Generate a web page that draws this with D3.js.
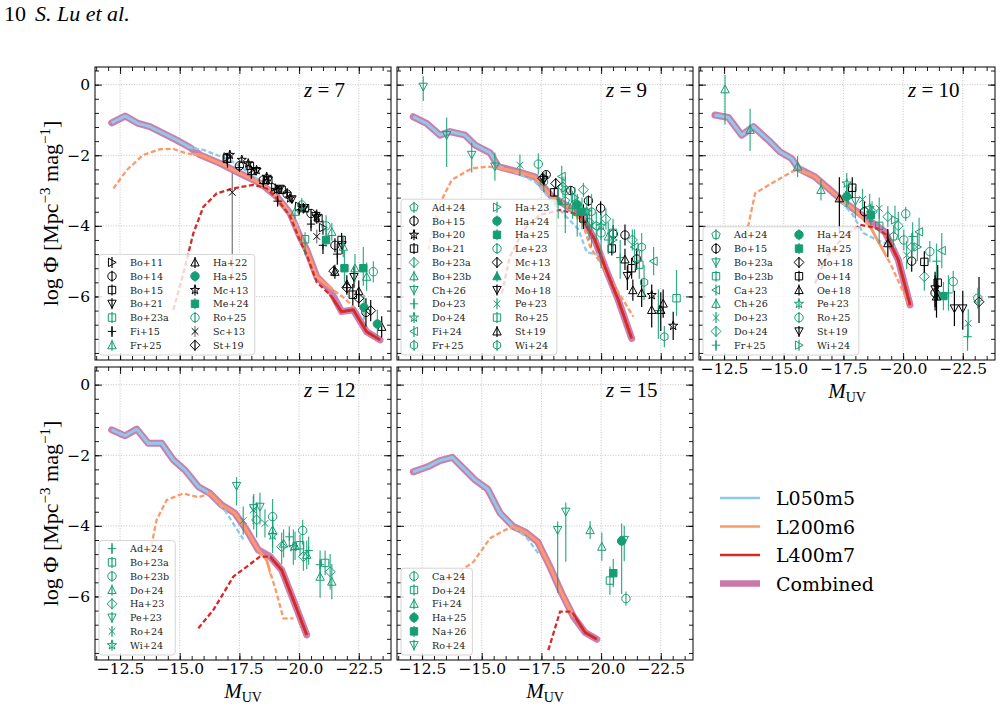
<!DOCTYPE html>
<html>
<head>
<meta charset="utf-8">
<script src="https://cdn.jsdelivr.net/npm/d3@7"></script>
<style>
body { margin: 0; background: #fff; }
svg text { font-family: "DejaVu Serif", serif; }
svg text.cm { font-family: "Liberation Serif", "DejaVu Serif", serif; }
</style>
</head>
<body>
<svg id="chart" width="1004" height="709"></svg>
<script>
// ---- model curves: [M_UV, log Phi] ----
var comb7 = [[-12.15,-1.08],[-12.71,-0.89],[-13.26,-1.10],[-13.75,-1.19],[-14.31,-1.38],[-14.87,-1.57],[-15.43,-1.78],[-15.85,-1.99],[-16.69,-2.23],[-17.52,-2.51],[-18.36,-2.79],[-19.06,-3.17],[-19.62,-3.64],[-20.04,-4.31],[-20.32,-4.68],[-20.74,-5.44],[-21.30,-5.82],[-21.78,-6.43],[-22.27,-6.38],[-22.83,-7.0],[-23.39,-7.23]];
var blue7 = [[-12.15,-1.08],[-12.71,-0.89],[-13.26,-1.10],[-13.75,-1.19],[-14.31,-1.38],[-14.87,-1.57],[-15.43,-1.78],[-16.0,-1.85],[-16.5,-1.98],[-17.1,-2.13],[-17.7,-2.4],[-18.3,-2.7],[-18.9,-3.05],[-19.5,-3.5],[-20.0,-4.1]];
var orange7 = [[-12.22,-2.94],[-12.78,-2.42],[-13.47,-1.99],[-14.17,-1.83],[-14.73,-1.82],[-15.29,-1.95],[-15.85,-1.99],[-16.69,-2.23],[-17.52,-2.51],[-18.36,-2.79],[-19.06,-3.17],[-19.62,-3.64],[-20.04,-4.31],[-20.32,-4.68],[-20.74,-5.44],[-21.3,-5.75],[-21.9,-6.05],[-22.3,-6.3]];
var red7 = [[-14.73,-6.38],[-15.15,-5.35],[-15.57,-4.21],[-15.99,-3.46],[-16.55,-3.08],[-17.24,-2.94],[-18.08,-2.84],[-18.64,-2.94],[-19.06,-3.22],[-19.62,-3.72],[-20.04,-4.42],[-20.32,-4.82],[-20.74,-5.6],[-21.3,-5.95],[-21.78,-6.43],[-22.27,-6.38],[-22.83,-7.0],[-23.39,-7.23]];
var cuts7 = [-15.55, -21.4];

var comb9 = [[-12.13,-0.91],[-12.69,-1.10],[-13.25,-1.43],[-13.67,-1.33],[-14.3,-1.43],[-14.72,-1.71],[-15.35,-1.93],[-15.69,-2.32],[-16.53,-2.47],[-17.23,-2.61],[-17.93,-3.17],[-18.63,-3.46],[-19.19,-3.74],[-19.74,-4.4],[-20.16,-5.16],[-20.72,-6.1],[-21.28,-7.19]];
var blue9 = [[-12.13,-0.91],[-12.69,-1.10],[-13.25,-1.43],[-13.67,-1.33],[-14.3,-1.43],[-14.72,-1.71],[-15.35,-1.93],[-15.69,-2.3],[-16.53,-2.52],[-17.23,-2.75],[-18.14,-3.45],[-19.05,-4.1],[-19.4,-4.75],[-20.1,-4.85]];
var orange9 = [[-12.76,-4.68],[-13.18,-3.46],[-13.74,-2.7],[-14.58,-2.37],[-15.27,-2.32],[-15.69,-2.36],[-16.53,-2.47],[-17.23,-2.61],[-17.93,-3.17],[-18.63,-3.46],[-19.19,-3.85],[-19.54,-4.59],[-20.24,-5.34],[-21.35,-6.57]];
var red9 = [[-15.84,-5.91],[-16.18,-4.87],[-16.74,-4.12],[-17.44,-3.69],[-18.28,-3.55],[-19.12,-3.69],[-19.74,-4.4],[-20.16,-5.16],[-20.72,-6.1],[-21.28,-7.19]];
var cuts9 = [-15.6, -19.1];

var comb10 = [[-12.12,-0.86],[-12.68,-0.93],[-13.24,-1.43],[-13.73,-1.19],[-14.35,-1.57],[-14.84,-1.9],[-15.33,-2.09],[-15.61,-2.37],[-16.31,-2.61],[-16.87,-2.94],[-17.43,-3.27],[-17.98,-3.55],[-18.54,-3.83],[-19.24,-4.17],[-19.8,-4.97],[-20.29,-6.24]];
var blue10 = [[-12.12,-0.86],[-12.68,-0.93],[-13.24,-1.43],[-13.73,-1.19],[-14.35,-1.57],[-14.84,-1.9],[-15.33,-2.09],[-15.61,-2.37],[-16.31,-2.61],[-16.87,-2.94],[-17.4,-3.3],[-17.9,-3.7],[-18.33,-4.2],[-18.9,-4.4],[-19.7,-4.6]];
var orange10 = [[-13.24,-4.87],[-13.8,-3.08],[-14.5,-2.79],[-15.33,-2.47],[-15.61,-2.4],[-16.31,-2.61],[-16.87,-2.94],[-17.43,-3.27],[-17.98,-3.55],[-18.62,-4.02],[-19.46,-5.06],[-20.29,-6.29]];
var red10 = [[-16.31,-5.63],[-16.8,-4.87],[-17.5,-4.31],[-18.2,-3.97],[-18.9,-4.07],[-19.3,-4.26],[-19.8,-4.97],[-20.29,-6.24]];
var cuts10 = [-15.65, -19.3];

var comb12 = [[-12.15,-1.28],[-12.71,-1.45],[-13.2,-1.26],[-13.68,-1.66],[-14.24,-1.66],[-14.73,-2.13],[-15.22,-2.42],[-15.78,-2.89],[-16.27,-3.08],[-16.76,-3.41],[-17.31,-3.64],[-17.8,-4.12],[-18.29,-4.68],[-18.78,-4.87],[-19.27,-5.25],[-19.76,-6.1],[-20.32,-7.09]];
var blue12 = [[-12.15,-1.28],[-12.71,-1.45],[-13.2,-1.26],[-13.68,-1.66],[-14.24,-1.66],[-14.73,-2.13],[-15.22,-2.42],[-15.78,-2.89],[-16.27,-3.08],[-16.76,-3.45],[-16.97,-3.64],[-17.3,-4.0],[-17.73,-4.45]];
var orange12 = [[-13.75,-4.78],[-14.03,-3.83],[-14.45,-3.27],[-15.15,-3.08],[-15.78,-3.19],[-16.27,-3.08],[-16.76,-3.41],[-17.31,-3.64],[-17.8,-4.12],[-18.29,-4.68],[-18.64,-4.97],[-19.06,-5.91],[-19.34,-6.62],[-19.76,-6.62]];
var red12 = [[-15.78,-6.9],[-16.41,-6.38],[-16.83,-5.91],[-17.24,-5.44],[-17.8,-5.16],[-18.36,-4.87],[-18.78,-4.87],[-19.27,-5.25],[-19.76,-6.1],[-20.32,-7.09]];
var cuts12 = [-16.2, -18.8];

var comb15 = [[-12.13,-2.47],[-12.76,-2.32],[-13.25,-2.15],[-13.77,-2.06],[-14.3,-2.42],[-14.72,-2.7],[-15.25,-2.96],[-15.77,-3.64],[-16.32,-4.02],[-16.81,-4.17],[-17.34,-4.45],[-17.86,-5.16],[-18.35,-5.91],[-18.84,-6.57],[-19.33,-7.02],[-19.82,-7.21]];
var blue15 = [[-12.13,-2.47],[-12.76,-2.32],[-13.25,-2.15],[-13.77,-2.06],[-14.3,-2.42],[-14.72,-2.7],[-15.25,-2.96],[-15.77,-3.64],[-16.32,-4.02],[-16.9,-4.35],[-17.37,-4.78]];
var orange15 = [[-13.25,-5.63],[-14.16,-5.25],[-14.65,-5.02],[-15.35,-4.35],[-15.97,-4.12],[-16.32,-4.02],[-16.81,-4.17],[-17.34,-4.45],[-17.86,-5.16],[-18.35,-5.91],[-18.84,-6.57]];
var red15 = [[-17.79,-7.52],[-18.28,-6.43],[-18.77,-6.43],[-19.33,-7.02],[-19.82,-7.21]];
var cuts15 = [-16.3, -18.9];

// ---- observations: [M_UV, log Phi, err low, err high] ----
var obs7 = [
  ["Bo+11", [[-17.0,-2.05,0.1,0.1],[-18.0,-2.4,0.1,0.1],[-19.0,-2.9,0.1,0.1],[-20.0,-3.45,0.12,0.12],[-21.0,-4.05,0.2,0.2]]],
  ["Bo+14", [[-17.5,-2.3,0.08,0.08],[-18.5,-2.7,0.1,0.1],[-19.5,-3.1,0.1,0.1],[-20.5,-3.65,0.12,0.12],[-21.5,-4.55,0.2,0.2],[-22.8,-6.45,0.4,0.4]]],
  ["Bo+15", [[-16.97,-2.09,0.15,0.15],[-17.94,-2.3,0.1,0.1],[-18.71,-2.7,0.1,0.1],[-19.27,-2.98,0.1,0.1],[-20.25,-3.5,0.1,0.1],[-20.81,-3.78,0.12,0.12],[-21.78,-4.4,0.2,0.2],[-22.25,-5.95,0.3,0.3]]],
  ["Bo+21", [[-18.2,-2.45,0.1,0.1],[-18.7,-2.72,0.1,0.1],[-19.2,-2.95,0.1,0.1],[-19.7,-3.25,0.1,0.1],[-20.2,-3.5,0.12,0.12],[-20.7,-3.72,0.15,0.15],[-21.8,-4.55,0.25,0.25],[-22.3,-5.45,0.3,0.3]]],
  ["Bo+23a", [[-20.25,-4.38,0.45,0.2]]],
  ["Fi+15", [[-17.0,-2.2,0.15,0.15],[-17.5,-2.35,0.1,0.1],[-18.0,-2.55,0.1,0.1],[-18.5,-2.8,0.1,0.1],[-19.1,-3.3,0.15,0.15],[-19.5,-3.05,0.1,0.1],[-20.0,-3.55,0.15,0.15],[-20.5,-3.95,0.2,0.2],[-21.0,-4.55,0.25,0.25],[-21.6,-4.8,0.3,0.3]]],
  ["Fr+25", [[-19.83,-3.6,0.2,0.2],[-21.37,-4.17,0.25,0.25],[-21.85,-4.59,0.3,0.3],[-22.34,-5.2,0.4,0.4],[-22.83,-5.44,0.4,0.4]]],
  ["Ha+22", [[-21.5,-5.3,0.2,0.2],[-22.0,-5.65,0.25,0.25],[-22.5,-5.85,0.3,0.3],[-23.46,-6.86,0.3,0.3]]],
  ["Ha+25", [[-22.72,-6.31,0.35,0.35],[-23.28,-6.78,0.4,0.4]]],
  ["Mc+13", [[-17.1,-1.99,0.1,0.1],[-17.6,-2.13,0.08,0.08],[-17.87,-2.23,0.08,0.08],[-18.22,-2.42,0.08,0.08],[-18.64,-2.61,0.1,0.1],[-19.06,-2.98,0.1,0.1],[-19.62,-3.22,0.12,0.12],[-20.18,-3.5,0.15,0.15],[-20.74,-3.74,0.2,0.2]]],
  ["Me+24", [[-21.13,-4.4,0.2,0.4],[-21.9,-5.2,0.4,0.5],[-22.69,-5.2,0.5,0.6]]],
  ["Ro+25", [[-20.11,-3.41,0.2,0.2],[-21.13,-4.0,0.3,0.3],[-23.11,-5.3,0.3,0.3]]],
  ["Sc+13", [[-17.2,-3.05,2.4,0.55],[-20.74,-4.3,0.2,0.2]]],
  ["St+19", [[-21.45,-5.28,0.15,0.15],[-22.0,-5.75,0.2,0.2],[-22.5,-6.05,0.25,0.25],[-23.0,-6.4,0.3,0.3]]]
];
var obs9 = [
  ["Ad+24", [[-18.5,-3.3,0.5,0.4],[-19.5,-3.9,0.5,0.4]]],
  ["Bo+15", [[-17.7,-2.55,0.1,0.1],[-18.73,-3.0,0.12,0.12],[-19.47,-3.29,0.15,0.15],[-19.98,-3.5,0.2,0.2],[-20.51,-4.23,0.25,0.25],[-21.0,-4.26,0.3,0.3],[-21.49,-4.94,0.3,0.3]]],
  ["Bo+20", [[-22.12,-5.96,0.3,0.3],[-23.02,-6.83,0.4,0.4]]],
  ["Bo+21", [[-18.04,-3.05,0.12,0.12],[-19.26,-3.79,0.3,0.4],[-20.45,-4.64,0.2,0.2],[-21.28,-5.2,0.3,0.3]]],
  ["Bo+23a", [[-18.4,-2.9,0.3,0.3],[-19.26,-2.98,0.2,0.2],[-20.2,-3.8,0.3,0.3],[-21.31,-4.4,0.3,0.3]]],
  ["Bo+23b", [[-18.8,-3.4,0.4,0.4],[-20.3,-4.3,0.5,0.4]]],
  ["Ch+26", [[-12.55,-0.06,0.4,0.3],[-13.53,-1.43,0.9,0.5],[-14.58,-1.99,0.5,0.35],[-15.55,-2.32,0.4,0.4]]],
  ["Do+23", [[-19.0,-3.7,0.6,0.5],[-20.8,-4.9,0.6,0.5],[-22.4,-6.4,0.8,0.6]]],
  ["Do+24", [[-19.4,-3.6,0.4,0.4],[-20.0,-4.0,0.4,0.4]]],
  ["Fi+24", [[-18.35,-2.6,0.3,0.3],[-21.4,-4.6,0.5,0.5],[-22.2,-5.0,0.4,0.4]]],
  ["Fr+25", [[-17.6,-2.75,0.3,0.3],[-19.6,-3.6,0.5,0.5],[-21.7,-4.6,0.4,0.4]]],
  ["Ha+23", [[-18.9,-3.2,0.4,0.3],[-20.5,-4.4,0.4,0.4]]],
  ["Ha+24", [[-19.0,-3.4,0.3,0.3]]],
  ["Ha+25", [[-19.2,-3.6,0.5,0.4]]],
  ["Le+23", [[-17.37,-2.25,0.3,0.3],[-18.5,-3.0,1.2,0.4],[-20.0,-4.2,1.0,0.5]]],
  ["Mc+13", [[-17.55,-2.65,0.15,0.15],[-18.1,-2.8,0.15,0.15]]],
  ["Me+24", [[-18.2,-3.3,0.5,0.4]]],
  ["Mo+18", [[-17.6,-2.7,0.15,0.15],[-21.1,-5.42,0.4,0.3]]],
  ["Pe+23", [[-16.6,-2.28,0.3,0.3],[-19.6,-4.0,0.6,0.5]]],
  ["Ro+25", [[-20.5,-4.2,0.4,0.4],[-21.6,-5.1,0.4,0.4],[-23.16,-6.05,0.5,0.8]]],
  ["St+19", [[-21.0,-4.95,0.3,0.3],[-21.33,-5.82,0.3,0.3],[-21.7,-5.9,0.4,0.4],[-22.12,-6.38,0.5,0.5],[-22.5,-6.38,0.6,0.5],[-22.6,-6.2,0.4,0.4]]],
  ["Wi+24", [[-19.8,-4.0,0.4,0.4],[-21.8,-5.6,0.5,0.5],[-22.65,-7.14,0.3,0.3]]]
];
var obs10 = [
  ["Ad+24", [[-19.6,-4.3,0.3,0.3]]],
  ["Bo+15", [[-18.38,-3.6,0.3,0.3],[-20.36,-5.0,0.3,0.3],[-21.34,-5.9,0.5,0.5]]],
  ["Bo+23a", [[-18.0,-3.3,0.5,0.4]]],
  ["Bo+23b", [[-19.0,-4.0,0.5,0.5]]],
  ["Ca+23", [[-20.67,-4.17,0.4,0.4],[-21.62,-4.7,0.5,0.5]]],
  ["Ch+26", [[-12.54,-0.13,1.0,0.4],[-13.59,-1.28,0.6,0.6],[-15.58,-2.32,0.3,0.3],[-16.56,-2.98,0.3,0.3]]],
  ["Do+23", [[-17.7,-3.1,0.3,0.3],[-18.3,-3.25,0.3,0.3],[-19.0,-3.5,0.3,0.3],[-20.15,-4.83,0.4,0.4],[-22.73,-6.76,0.4,0.4]]],
  ["Do+24", [[-18.7,-3.6,0.3,0.3],[-19.36,-3.74,0.3,0.3],[-19.8,-4.0,0.4,0.4],[-20.36,-4.6,0.4,0.4],[-20.89,-5.44,0.4,0.4]]],
  ["Fr+25", [[-20.4,-4.3,0.4,0.4],[-21.4,-5.0,0.5,0.5],[-21.9,-5.9,0.5,0.5],[-22.7,-7.14,0.4,0.4]]],
  ["Ha+24", [[-17.64,-3.17,0.3,0.3]]],
  ["Ha+25", [[-18.65,-3.69,0.3,0.3],[-21.69,-5.99,0.4,0.4]]],
  ["Mo+18", [[-23.18,-6.15,0.6,0.7]]],
  ["Oe+14", [[-17.87,-2.92,0.3,0.3],[-20.89,-5.02,0.3,0.3],[-21.45,-5.61,0.5,0.5]]],
  ["Oe+18", [[-17.33,-3.22,1.0,0.6],[-19.36,-4.49,0.4,0.4],[-21.4,-6.0,0.6,0.5]]],
  ["Pe+23", [[-17.64,-2.8,0.3,0.3],[-18.6,-3.5,0.4,0.4]]],
  ["Ro+25", [[-20.11,-3.66,0.2,0.2],[-20.03,-4.4,0.3,0.3],[-21.12,-4.73,0.3,0.3],[-22.1,-5.58,0.3,0.3],[-23.13,-6.05,0.3,0.3]]],
  ["St+19", [[-21.34,-5.8,0.5,0.5],[-22.15,-6.34,0.5,0.5],[-22.5,-6.34,0.6,0.5]]],
  ["Wi+24", [[-19.66,-3.83,0.4,0.4],[-20.6,-4.6,0.4,0.4]]]
];
var obs12 = [
  ["Ad+24", [[-19.59,-4.31,0.3,0.3],[-20.4,-4.7,0.4,0.4],[-20.88,-5.1,0.4,0.4]]],
  ["Bo+23a", [[-20.04,-4.55,0.3,0.3],[-21.09,-5.05,0.35,0.35]]],
  ["Bo+23b", [[-18.89,-3.74,0.5,0.5],[-20.15,-4.13,0.4,0.3]]],
  ["Do+24", [[-18.89,-4.12,0.5,0.4],[-19.35,-4.5,0.4,0.4],[-19.83,-4.57,0.4,0.4],[-20.32,-4.82,0.4,0.4],[-20.88,-5.44,0.6,0.5],[-21.37,-5.58,0.5,0.5]]],
  ["Ha+23", [[-18.22,-3.83,0.5,0.5],[-19.27,-4.59,0.5,0.4],[-20.18,-4.87,0.4,0.4],[-21.3,-5.3,0.5,0.5]]],
  ["Pe+23", [[-17.38,-2.87,0.55,0.25],[-18.1,-3.5,0.6,0.4],[-18.36,-3.46,0.5,0.4]]],
  ["Ro+24", [[-17.66,-3.85,0.4,0.4],[-18.08,-3.55,0.4,0.4],[-18.57,-3.93,0.4,0.4]]],
  ["Wi+24", [[-18.89,-4.27,0.5,0.5],[-19.76,-4.6,0.5,0.5]]]
];
var obs15 = [
  ["Ca+24", [[-21.04,-6.06,0.2,0.2]]],
  ["Do+24", [[-20.37,-5.55,0.4,0.4]]],
  ["Fi+24", [[-19.54,-4.12,0.25,0.25],[-20.03,-4.59,0.4,0.4]]],
  ["Ha+25", [[-20.86,-4.43,1.5,0.5]]],
  ["Na+26", [[-20.51,-5.34,0.4,0.4]]],
  ["Ro+24", [[-18.18,-4.12,1.78,0.24],[-18.52,-3.6,1.42,0.26],[-20.97,-4.4,0.6,0.4]]]
];

// marker style per dataset: shape, colour key, filled
var sty7 = {"Bo+11":["triR","k",0],"Bo+14":["circle","k",0],"Bo+15":["square","k",0],"Bo+21":["triD","k",0],"Bo+23a":["square","g",0],"Fi+15":["plus","k",0],"Fr+25":["triU","g",0],"Ha+22":["triU","k",0],"Ha+25":["circle","g",1],"Mc+13":["star","k",0],"Me+24":["square","g",1],"Ro+25":["circle","g",0],"Sc+13":["x","k",0],"St+19":["diamond","k",0]};
var sty9 = {"Ad+24":["pent","g",0],"Bo+15":["circle","k",0],"Bo+20":["star","k",0],"Bo+21":["square","k",0],"Bo+23a":["diamond","g",0],"Bo+23b":["triU","g",0],"Ch+26":["triD","g",0],"Do+23":["plus","g",0],"Do+24":["star","g",0],"Fi+24":["triL","g",0],"Fr+25":["hex","g",0],"Ha+23":["triR","g",0],"Ha+24":["circle","g",1],"Ha+25":["square","g",1],"Le+23":["circle","g",0],"Mc+13":["diamond","k",0],"Me+24":["triU","g",1],"Mo+18":["triD","k",0],"Pe+23":["x","g",0],"Ro+25":["square","g",0],"St+19":["triU","k",0],"Wi+24":["hex","g",0]};
var sty10 = {"Ad+24":["pent","g",0],"Bo+15":["circle","k",0],"Bo+23a":["triD","g",0],"Bo+23b":["square","g",0],"Ca+23":["triL","g",0],"Ch+26":["triU","g",0],"Do+23":["x","g",0],"Do+24":["diamond","g",0],"Fr+25":["plus","g",0],"Ha+24":["circle","g",1],"Ha+25":["square","g",1],"Mo+18":["diamond","k",0],"Oe+14":["square","k",0],"Oe+18":["triU","k",0],"Pe+23":["star","g",0],"Ro+25":["circle","g",0],"St+19":["triD","k",0],"Wi+24":["triR","g",0]};
var sty12 = {"Ad+24":["plus","g",0],"Bo+23a":["square","g",0],"Bo+23b":["circle","g",0],"Do+24":["triU","g",0],"Ha+23":["diamond","g",0],"Pe+23":["triD","g",0],"Ro+24":["x","g",0],"Wi+24":["star","g",0]};
var sty15 = {"Ca+24":["circle","g",0],"Do+24":["square","g",0],"Fi+24":["triU","g",0],"Ha+25":["circle","g",1],"Na+26":["square","g",1],"Ro+24":["triD","g",0]};

var simNames = ["L050m5", "L200m6", "L400m7", "Combined"];

// ---- layout ----
var pw = 296, ph = 293;
var colors = {blue: "#8ccbec", orange: "#fc9a6b", red: "#d62a28", comb: "#c978a8", g: "#159e74", k: "#000"};

var panels = [
  {z: "7",  left: 95,  top: 67,  comb: comb7,  blue: blue7,  orange: orange7,  red: red7,  cuts: cuts7,  obs: obs7,  sty: sty7,  ncol: 2, xt: false, yt: true},
  {z: "9",  left: 397, top: 67,  comb: comb9,  blue: blue9,  orange: orange9,  red: red9,  cuts: cuts9,  obs: obs9,  sty: sty9,  ncol: 2, xt: false, yt: false},
  {z: "10", left: 699, top: 67,  comb: comb10, blue: blue10, orange: orange10, red: red10, cuts: cuts10, obs: obs10, sty: sty10, ncol: 2, xt: true,  yt: false},
  {z: "12", left: 95,  top: 367, comb: comb12, blue: blue12, orange: orange12, red: red12, cuts: cuts12, obs: obs12, sty: sty12, ncol: 1, xt: true,  yt: true},
  {z: "15", left: 397, top: 367, comb: comb15, blue: blue15, orange: orange15, red: red15, cuts: cuts15, obs: obs15, sty: sty15, ncol: 1, xt: true,  yt: false}
];

var svg = d3.select("#chart");
var defs = svg.append("defs");

var x = d3.scaleLinear().domain([-11.45, -23.85]).range([0, pw]);
var y = d3.scaleLinear().domain([-7.8, 0.5]).range([ph, 0]);
var line = d3.line().x(function(d) { return x(d[0]); }).y(function(d) { return y(d[1]); });

var xMajor = [-12.5, -15, -17.5, -20, -22.5],
    xMinor = d3.range(-11.5, -23.9, -0.5),
    yMajor = [0, -2, -4, -6],
    yMinor = d3.range(0.4, -7.9, -0.4);

function poly(pts) { return "M" + pts.map(function(p) { return p[0].toFixed(2) + "," + p[1].toFixed(2); }).join("L") + "Z"; }
function ngon(n, r, rot) {
  var pts = [];
  for (var i = 0; i < n; i++) { var a = rot + i * 2 * Math.PI / n; pts.push([r * Math.sin(a), -r * Math.cos(a)]); }
  return poly(pts);
}
function symbol(shape, r) {
  switch (shape) {
    case "circle": return "M" + r + ",0A" + r + "," + r + ",0,1,1," + (-r) + ",0A" + r + "," + r + ",0,1,1," + r + ",0Z";
    case "square": var s = r * 0.88; return poly([[-s,-s],[s,-s],[s,s],[-s,s]]);
    case "diamond": var t = r * 1.18; return poly([[0,-t],[t,0],[0,t],[-t,0]]);
    case "triU": return poly([[0,-r],[r,r*0.85],[-r,r*0.85]]);
    case "triD": return poly([[0,r],[r,-r*0.85],[-r,-r*0.85]]);
    case "triL": return poly([[-r,0],[r*0.85,-r],[r*0.85,r]]);
    case "triR": return poly([[r,0],[-r*0.85,-r],[-r*0.85,r]]);
    case "plus": return "M" + (-r) + ",0H" + r + "M0," + (-r) + "V" + r;
    case "x": var u = r * 0.8; return "M" + (-u) + "," + (-u) + "L" + u + "," + u + "M" + (-u) + "," + u + "L" + u + "," + (-u);
    case "pent": return ngon(5, r * 1.05, 0);
    case "hex": return ngon(6, r, 0);
    case "star":
      var pts = [];
      for (var i = 0; i < 10; i++) { var a = i * Math.PI / 5, rr = i % 2 ? r * 0.45 : r * 1.15; pts.push([rr * Math.sin(a), -rr * Math.cos(a)]); }
      return poly(pts);
  }
}

function drawMarker(g, st, cx, cy, r) {
  var col = colors[st[1]];
  var open = st[2] === 0;
  var lineOnly = st[0] === "plus" || st[0] === "x";
  g.append("path")
    .attr("transform", "translate(" + cx + "," + cy + ")")
    .attr("d", symbol(st[0], r))
    .attr("fill", lineOnly || open ? "none" : col)
    .attr("stroke", col)
    .attr("stroke-width", 1);
}

panels.forEach(function(p, pi) {
  var g = svg.append("g").attr("transform", "translate(" + p.left + "," + p.top + ")");

  defs.append("clipPath").attr("id", "clip" + pi)
    .append("rect").attr("width", pw).attr("height", ph);

  // grid
  var grid = g.append("g").attr("stroke", "#b5b5b5").attr("stroke-width", 0.8).attr("stroke-dasharray", "1,1.6");
  grid.selectAll(".gx").data(xMajor).enter().append("line")
    .attr("x1", function(d) { return x(d); }).attr("x2", function(d) { return x(d); })
    .attr("y1", 0).attr("y2", ph);
  grid.selectAll(".gy").data(yMajor).enter().append("line")
    .attr("y1", function(d) { return y(d); }).attr("y2", function(d) { return y(d); })
    .attr("x1", 0).attr("x2", pw);

  var plot = g.append("g").attr("clip-path", "url(#clip" + pi + ")");

  // combined band
  plot.append("path").datum(p.comb).attr("d", line)
    .attr("fill", "none").attr("stroke", colors.comb).attr("stroke-width", 7)
    .attr("stroke-linejoin", "round").attr("stroke-linecap", "round").attr("opacity", 0.95);

  // each simulation: dashed everywhere, solid inside its own range
  var ranges = {blue: [0, x(p.cuts[0])], orange: [x(p.cuts[0]), x(p.cuts[1])], red: [x(p.cuts[1]), pw]};
  ["blue", "orange", "red"].forEach(function(k) {
    var id = "c" + pi + k;
    defs.append("clipPath").attr("id", id).append("rect")
      .attr("x", ranges[k][0]).attr("width", ranges[k][1] - ranges[k][0])
      .attr("y", -20).attr("height", ph + 40);
    plot.append("path").datum(p[k]).attr("d", line)
      .attr("fill", "none").attr("stroke", colors[k]).attr("stroke-width", 2.3)
      .attr("stroke-dasharray", "5,2.6");
    plot.append("path").datum(p[k]).attr("d", line)
      .attr("clip-path", "url(#" + id + ")")
      .attr("fill", "none").attr("stroke", colors[k]).attr("stroke-width", 2.8)
      .attr("stroke-linejoin", "round");
  });

  // observations
  p.obs.forEach(function(o) {
    var st = p.sty[o[0]];
    var ecol = o[0] === "Sc+13" ? "#777" : colors[st[1]];
    o[1].forEach(function(d) {
      plot.append("line")
        .attr("x1", x(d[0])).attr("x2", x(d[0]))
        .attr("y1", y(d[1] - d[2])).attr("y2", y(d[1] + d[3]))
        .attr("stroke", ecol).attr("stroke-width", 1.2)
        .attr("opacity", st[1] === "g" ? 0.85 : 1);
      drawMarker(plot, st, x(d[0]), y(d[1]), 4.2);
    });
  });

  // axes, ticks pointing inward on all sides
  function ax(axis, vals, size, fmt) { return axis.tickValues(vals).tickSize(size).tickSizeOuter(0).tickPadding(4).tickFormat(fmt); }
  var fx = p.xt ? d3.format(".1f") : "";
  var fy = p.yt ? d3.format("d") : "";
  var axes = [
    g.append("g").attr("transform", "translate(0," + ph + ")").call(ax(d3.axisBottom(x), xMinor, -4, "")),
    g.append("g").attr("transform", "translate(0," + ph + ")").call(ax(d3.axisBottom(x), xMajor, -7, fx).tickPadding(3)),
    g.append("g").call(ax(d3.axisTop(x), xMinor, -4, "")),
    g.append("g").call(ax(d3.axisTop(x), xMajor, -7, "")),
    g.append("g").call(ax(d3.axisLeft(y), yMinor, -4, "")),
    g.append("g").call(ax(d3.axisLeft(y), yMajor, -7, fy).tickPadding(5)),
    g.append("g").attr("transform", "translate(" + pw + ",0)").call(ax(d3.axisRight(y), yMinor, -4, "")),
    g.append("g").attr("transform", "translate(" + pw + ",0)").call(ax(d3.axisRight(y), yMajor, -7, ""))
  ];
  axes.forEach(function(a) {
    a.select(".domain").remove();
    a.selectAll("text").attr("font-family", "DejaVu Serif").attr("font-size", 15.5).attr("fill", "#000");
    a.selectAll("line").attr("stroke", "#000").attr("stroke-width", 0.9);
  });
  g.append("rect").attr("width", pw).attr("height", ph)
    .attr("fill", "none").attr("stroke", "#000").attr("stroke-width", 1);

  // redshift label
  var zt = g.append("text").attr("class", "cm").attr("x", 209).attr("y", 30).attr("font-size", 21);
  zt.append("tspan").attr("font-style", "italic").text("z");
  zt.append("tspan").text(" = " + p.z);

  // legend of observations
  var nrow = Math.ceil(p.obs.length / p.ncol), rowH = 13.8;
  var lg = g.append("g");
  var box = lg.append("rect");
  var lgTop = ph - 6 - nrow * rowH - 3;
  p.obs.forEach(function(o, i) {
    var col = Math.floor(i / nrow), row = i % nrow;
    var mx = 17 + col * 83, my = lgTop + 8 + row * rowH;
    var st = p.sty[o[0]];
    lg.append("line").attr("x1", mx).attr("x2", mx).attr("y1", my - 5.5).attr("y2", my + 5.5)
      .attr("stroke", o[0] === "Sc+13" ? "#777" : colors[st[1]]).attr("stroke-width", 1.2);
    drawMarker(lg, st, mx, my, 4.2);
    lg.append("text").attr("x", mx + 18).attr("y", my + 3.5)
      .attr("font-size", 9.6).attr("fill", "#222").text(o[0]);
  });
  var bb = lg.node().getBBox();
  box.attr("x", 4).attr("y", lgTop).attr("rx", 3)
    .attr("width", bb.x + bb.width - 4 + 6).attr("height", nrow * rowH + 4)
    .attr("fill", "#fff").attr("fill-opacity", 0.8)
    .attr("stroke", "#d4d4d4").attr("stroke-width", 1);

  // axis titles
  if (p.xt) {
    var xl = g.append("text").attr("class", "cm").attr("x", pw / 2).attr("y", ph + 38)
      .attr("text-anchor", "middle").attr("font-size", 21);
    xl.append("tspan").attr("font-style", "italic").text("M");
    xl.append("tspan").attr("dy", 4).attr("font-size", 14).text("UV");
  }
  if (p.yt) {
    var yl = g.append("text").attr("class", "cm")
      .attr("transform", "translate(-37," + (ph / 2) + ") rotate(-90)")
      .attr("text-anchor", "middle").attr("font-size", 22);
    yl.append("tspan").text("log Φ [Mpc");
    yl.append("tspan").attr("dy", -8).attr("font-size", 15).text("−3");
    yl.append("tspan").attr("dy", 8).text(" mag");
    yl.append("tspan").attr("dy", -8).attr("font-size", 15).text("−1");
    yl.append("tspan").attr("dy", 8).text("]");
  }
});

// simulation legend
var leg = svg.append("g").attr("transform", "translate(720,498)");
var legCols = [colors.blue, colors.orange, colors.red, colors.comb];
simNames.forEach(function(n, i) {
  leg.append("line").attr("x1", 0).attr("x2", 40).attr("y1", i * 28.5).attr("y2", i * 28.5)
    .attr("stroke", legCols[i]).attr("stroke-width", i === 3 ? 6.5 : 2.6);
  leg.append("text").attr("x", 56).attr("y", i * 28.5 + 7).attr("font-size", 19).text(n);
});

// running header
svg.append("text").attr("class", "cm").attr("x", 4).attr("y", 21).attr("font-size", 22).text("10");
svg.append("text").attr("class", "cm").attr("x", 35).attr("y", 21).attr("font-size", 22)
  .attr("font-style", "italic").text("S. Lu et al.");
</script>
</body>
</html>
